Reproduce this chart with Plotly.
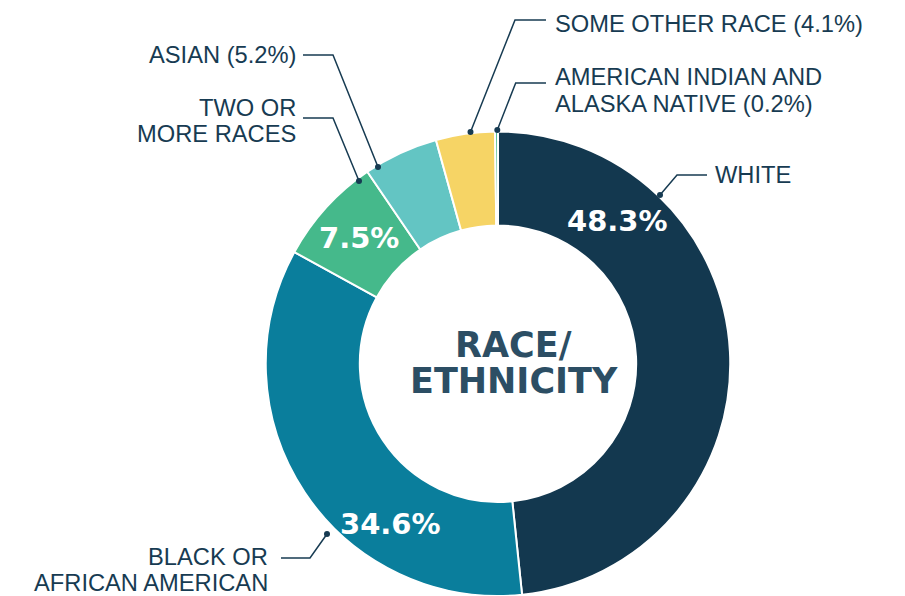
import plotly.graph_objects as go

W, H = 905, 596

# ---- data ----
categories = ["WHITE", "BLACK OR AFRICAN AMERICAN", "TWO OR MORE RACES", "ASIAN",
              "SOME OTHER RACE", "AMERICAN INDIAN AND ALASKA NATIVE"]
shares = [48.3, 34.6, 7.5, 5.2, 4.1, 0.2]
slice_colors = ["#13384f", "#0a7e9c", "#45b98b", "#63c5c3", "#f6d465", "#45b98b"]
pct_labels = ["48.3%", "34.6%", "7.5%"]
title_lines = ["RACE/", "ETHNICITY"]

# label lines: (text, x, y, anchor)
label_lines = [
    ("SOME OTHER RACE (4.1%)", 553, 24, "left"),
    ("AMERICAN INDIAN AND", 553, 76.5, "left"),
    ("ALASKA NATIVE (0.2%)", 553, 104.5, "left"),
    ("WHITE", 713, 174.5, "left"),
    ("ASIAN (5.2%)", 298, 54.5, "right"),
    ("TWO OR", 298, 108, "right"),
    ("MORE RACES", 298, 134, "right"),
    ("BLACK OR", 270, 556.5, "right"),
    ("AFRICAN AMERICAN", 270, 582.5, "right"),
]
# leader lines in pixels: list of points, first point is the dot on the ring
leaders = [
    [(470.5, 132), (515, 20), (546, 20)],
    [(497.3, 130), (515.7, 83), (546, 83)],
    [(660, 195), (677, 175), (707, 175)],
    [(378, 167), (333, 55), (303, 55)],
    [(359, 181), (333, 118), (303, 118)],
    [(327, 534), (310, 558), (281, 558)],
]
pct_pos = [(617, 221), (390.5, 524), (359, 237.5)]
title_pos = [(513, 344.5), (514, 380.5)]

NAVY = "#173b52"
TITLE = "#2c4e64"


def px(x, y):
    return x / W, 1 - y / H


cx, cy, R = 498, 364, 232.5
fig = go.Figure(go.Pie(
    labels=categories,
    values=shares,
    sort=False,
    direction="clockwise",
    rotation=0,
    hole=0.595,
    textinfo="none",
    hoverinfo="label+percent",
    marker=dict(colors=slice_colors, line=dict(color="white", width=2)),
    domain=dict(x=[(cx - R) / W, (cx + R) / W], y=[0, 1 - (cy - R) / H]),
    showlegend=False,
))

annotations = []
for text, x, y, anchor in label_lines:
    ax, ay = px(x, y)
    annotations.append(dict(text=text, x=ax, y=ay, xref="paper", yref="paper",
                            xanchor=anchor, yanchor="middle", showarrow=False,
                            font=dict(family="Liberation Sans", size=23.7, color=NAVY)))
for text, (x, y) in zip(pct_labels, pct_pos):
    ax, ay = px(x, y)
    annotations.append(dict(text=text, x=ax, y=ay, xref="paper", yref="paper",
                            xanchor="center", yanchor="middle", showarrow=False,
                            font=dict(family="DejaVu Sans", size=29, color="white", weight=700)))
for text, (x, y) in zip(title_lines, title_pos):
    ax, ay = px(x, y)
    annotations.append(dict(text=text, x=ax, y=ay, xref="paper", yref="paper",
                            xanchor="center", yanchor="middle", showarrow=False,
                            font=dict(family="DejaVu Sans", size=35, color=TITLE, weight=700)))

shapes = []
for pts in leaders:
    path = "M " + " L ".join("{:.5f},{:.5f}".format(*px(x, y)) for x, y in pts)
    shapes.append(dict(type="path", path=path, xref="paper", yref="paper",
                       line=dict(color=NAVY, width=1.5)))
    dx, dy = px(*pts[0])
    shapes.append(dict(type="circle", xref="paper", yref="paper",
                       xsizemode="pixel", ysizemode="pixel", xanchor=dx, yanchor=dy,
                       x0=-3, x1=3, y0=-3, y1=3,
                       fillcolor=NAVY, line=dict(width=0)))

fig.update_layout(
    width=W, height=H,
    margin=dict(l=0, r=0, t=0, b=0),
    paper_bgcolor="white", plot_bgcolor="white",
    annotations=annotations, shapes=shapes,
)
fig.write_html("out.html",
               config={"displayModeBar": False},
               post_script="document.body.style.margin='0px';document.body.style.overflow='hidden';")
